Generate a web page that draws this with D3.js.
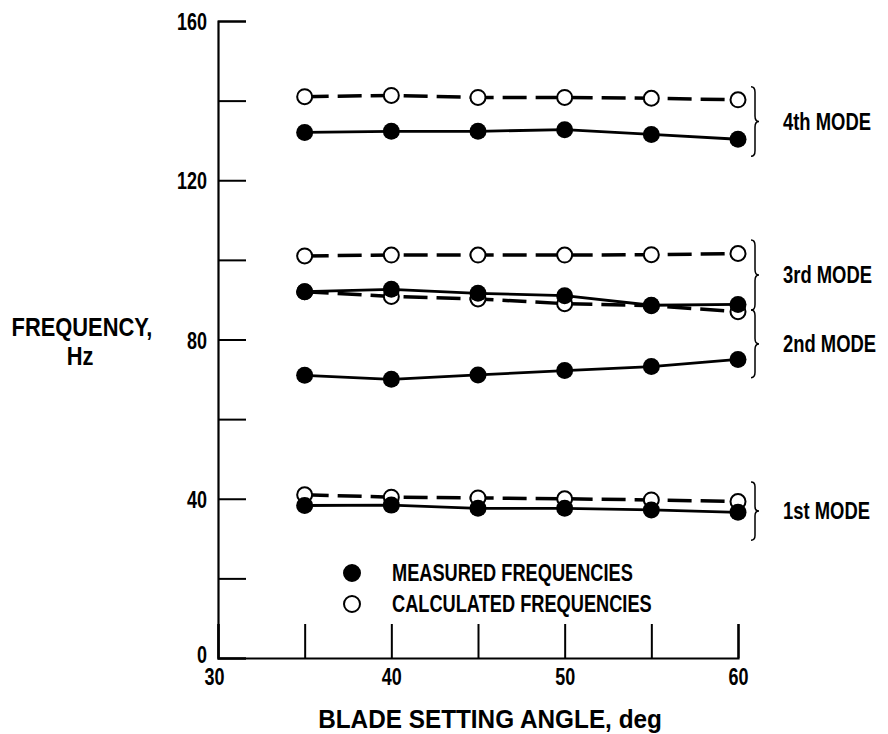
<!DOCTYPE html>
<html>
<head>
<meta charset="utf-8">
<script src="https://cdn.jsdelivr.net/npm/d3@7"></script>
<style>
  body { margin: 0; background: #fff; }
  svg text { font-family: "Liberation Sans", Arial, sans-serif; font-weight: bold; fill: #000; }
</style>
</head>
<body>
<div id="chart"></div>
<script>
// blade setting angles, deg
var angles = [35, 40, 45, 50, 55, 60];

// frequencies, Hz
var mode1Measured   = [38.3, 38.4, 37.6, 37.6, 37.2, 36.6];
var mode1Calculated = [41.0, 40.4, 40.2, 40.0, 39.7, 39.3];
var mode2Measured   = [71.0, 70.0, 71.1, 72.2, 73.2, 75.0];
var mode2Calculated = [92.0, 90.8, 90.2, 89.0, 88.5, 87.0];
var mode3Measured   = [92.0, 92.6, 91.6, 91.0, 88.6, 88.8];
var mode3Calculated = [101.0, 101.2, 101.2, 101.2, 101.3, 101.6];
var mode4Measured   = [132.0, 132.3, 132.3, 132.7, 131.5, 130.3];
var mode4Calculated = [141.0, 141.3, 140.8, 140.8, 140.6, 140.2];

// mode braces: label, lower and upper frequency
var modeLabels = ["4th MODE", "3rd MODE", "2nd MODE", "1st MODE"];
var braceLow   = [126, 87.4, 70.4, 29.6];
var braceHigh  = [143.5, 105, 87.4, 44.2];

var yTicks = [0, 20, 40, 60, 80, 100, 120, 140, 160];
var yTickLabels = ["0", "", "40", "", "80", "", "120", "", "160"];
var xTicks = [30, 35, 40, 45, 50, 55, 60];
var xTickLabels = ["30", "", "40", "", "50", "", "60"];

var width = 888, height = 734;

var svg = d3.select("#chart").append("svg")
    .attr("width", width)
    .attr("height", height);

// the original lettering is a tall condensed face: squeeze glyphs horizontally
function condense(sel, factor) {
    sel.each(function() {
        var t = d3.select(this);
        var tx = +t.attr("x") || 0, ty = +t.attr("y") || 0;
        t.attr("x", 0).attr("y", 0)
            .attr("transform", "translate(" + tx + "," + ty + ") scale(" + factor + ",1)");
    });
}
function factorFor(sel, target) {
    return target / sel.node().getComputedTextLength();
}

var x = d3.scaleLinear().domain([30, 60]).range([218, 738]);
var y = d3.scaleLinear().domain([0, 160]).range([658, 21]);

// axes (ticks pointing inward)
var yAxis = d3.axisLeft(y)
    .tickValues(yTicks)
    .tickSize(-28)
    .tickPadding(38)
    .tickFormat(function(d, i) { return yTickLabels[i]; });
var gy = svg.append("g")
    .attr("transform", "translate(" + x(30) + ",0)")
    .call(yAxis)
    .attr("font-family", null).attr("font-size", null);
gy.select(".domain").attr("stroke", "#000").attr("stroke-width", 2.2);
gy.selectAll(".tick line").attr("stroke", "#000").attr("stroke-width", 2);
var yLabels = gy.selectAll(".tick text")
    .style("font-size", "24px")
    .attr("x", -11)
    .attr("y", function(d) { return d === 0 ? -4 : 0; })
    .attr("dy", "0.36em");

var xAxis = d3.axisBottom(x)
    .tickValues(xTicks)
    .tickSize(-34)
    .tickPadding(42)
    .tickFormat(function(d, i) { return xTickLabels[i]; });
var gx = svg.append("g")
    .attr("transform", "translate(0," + y(0) + ")")
    .call(xAxis)
    .attr("font-family", null).attr("font-size", null);
gx.select(".domain").attr("stroke", "#000").attr("stroke-width", 2.2);
gx.selectAll(".tick line").attr("stroke", "#000").attr("stroke-width", 2);
var xLabels = gx.selectAll(".tick text")
    .style("font-size", "24px")
    .attr("x", function(d) { return d === 30 ? -4 : 0; })
    .attr("y", 10)
    .attr("dy", "0.71em");

var digitFactor = factorFor(xLabels.filter(function(d) { return d === 40; }), 20);
condense(yLabels, digitFactor);
condense(xLabels, digitFactor);

var line = d3.line()
    .x(function(d, i) { return x(angles[i]); })
    .y(function(d) { return y(d); });

var calculated = [mode1Calculated, mode2Calculated, mode3Calculated, mode4Calculated];
var measured = [mode1Measured, mode2Measured, mode3Measured, mode4Measured];

// calculated: dashed lines with open circles
calculated.forEach(function(series) {
    svg.append("path")
        .datum(series)
        .attr("d", line)
        .attr("fill", "none")
        .attr("stroke", "#000")
        .attr("stroke-width", 3.5)
        .attr("stroke-dasharray", "24,9");
    svg.selectAll(null)
        .data(series)
        .enter()
        .append("circle")
        .attr("cx", function(d, i) { return x(angles[i]); })
        .attr("cy", function(d) { return y(d); })
        .attr("r", 7.5)
        .attr("fill", "#fff")
        .attr("stroke", "#000")
        .attr("stroke-width", 2);
});

// measured: solid lines with filled circles
measured.forEach(function(series) {
    svg.append("path")
        .datum(series)
        .attr("d", line)
        .attr("fill", "none")
        .attr("stroke", "#000")
        .attr("stroke-width", 2.8);
    svg.selectAll(null)
        .data(series)
        .enter()
        .append("circle")
        .attr("cx", function(d, i) { return x(angles[i]); })
        .attr("cy", function(d) { return y(d); })
        .attr("r", 8.5)
        .attr("fill", "#000");
});

// curly braces and mode labels
function bracePath(bx, y1, y2, w) {
    var ym = (y1 + y2) / 2;
    var q = (y2 - y1) * 0.08;
    return "M" + bx + "," + y1 +
        " Q" + (bx + w / 2) + "," + y1 + " " + (bx + w / 2) + "," + (y1 + q) +
        " L" + (bx + w / 2) + "," + (ym - q) +
        " Q" + (bx + w / 2) + "," + ym + " " + (bx + w) + "," + ym +
        " Q" + (bx + w / 2) + "," + ym + " " + (bx + w / 2) + "," + (ym + q) +
        " L" + (bx + w / 2) + "," + (y2 - q) +
        " Q" + (bx + w / 2) + "," + y2 + " " + bx + "," + y2;
}

modeLabels.forEach(function(label, i) {
    svg.append("path")
        .attr("d", bracePath(751, y(braceHigh[i]), y(braceLow[i]), 8))
        .attr("fill", "none")
        .attr("stroke", "#000")
        .attr("stroke-width", 1.5);
});

var modeText = svg.selectAll(".mode")
    .data(modeLabels)
    .enter()
    .append("text")
    .attr("class", "mode")
    .attr("x", 783)
    .attr("y", function(d, i) { return (y(braceHigh[i]) + y(braceLow[i])) / 2 + 8; })
    .style("font-size", "23px")
    .text(function(d) { return d; });
condense(modeText, factorFor(modeText, 88));

// legend
var legendItems = [
    { label: "MEASURED FREQUENCIES", fill: "#000" },
    { label: "CALCULATED FREQUENCIES", fill: "#fff" }
];
var legend = svg.selectAll(".legend")
    .data(legendItems)
    .enter()
    .append("g")
    .attr("class", "legend")
    .attr("transform", function(d, i) { return "translate(352," + (573 + i * 31) + ")"; });
legend.append("circle")
    .attr("r", 8)
    .attr("fill", function(d) { return d.fill; })
    .attr("stroke", "#000")
    .attr("stroke-width", 2);
var legendText = legend.append("text")
    .attr("x", 40)
    .attr("y", 8)
    .style("font-size", "24px")
    .text(function(d) { return d.label; });
condense(legendText, factorFor(legendText, 241));

// axis titles
var yTitle = svg.append("text")
    .attr("x", 82)
    .attr("y", 336)
    .style("text-anchor", "middle")
    .style("font-size", "25px")
    .text("FREQUENCY,");
var yTitleFactor = factorFor(yTitle, 141);
condense(yTitle, yTitleFactor);
var yUnit = svg.append("text")
    .attr("x", 80)
    .attr("y", 365)
    .style("text-anchor", "middle")
    .style("font-size", "25px")
    .text("Hz");
condense(yUnit, yTitleFactor);

var xTitle = svg.append("text")
    .attr("x", 490)
    .attr("y", 728)
    .style("text-anchor", "middle")
    .style("font-size", "25px")
    .text("BLADE SETTING ANGLE, deg");
condense(xTitle, factorFor(xTitle, 344));
</script>
</body>
</html>
